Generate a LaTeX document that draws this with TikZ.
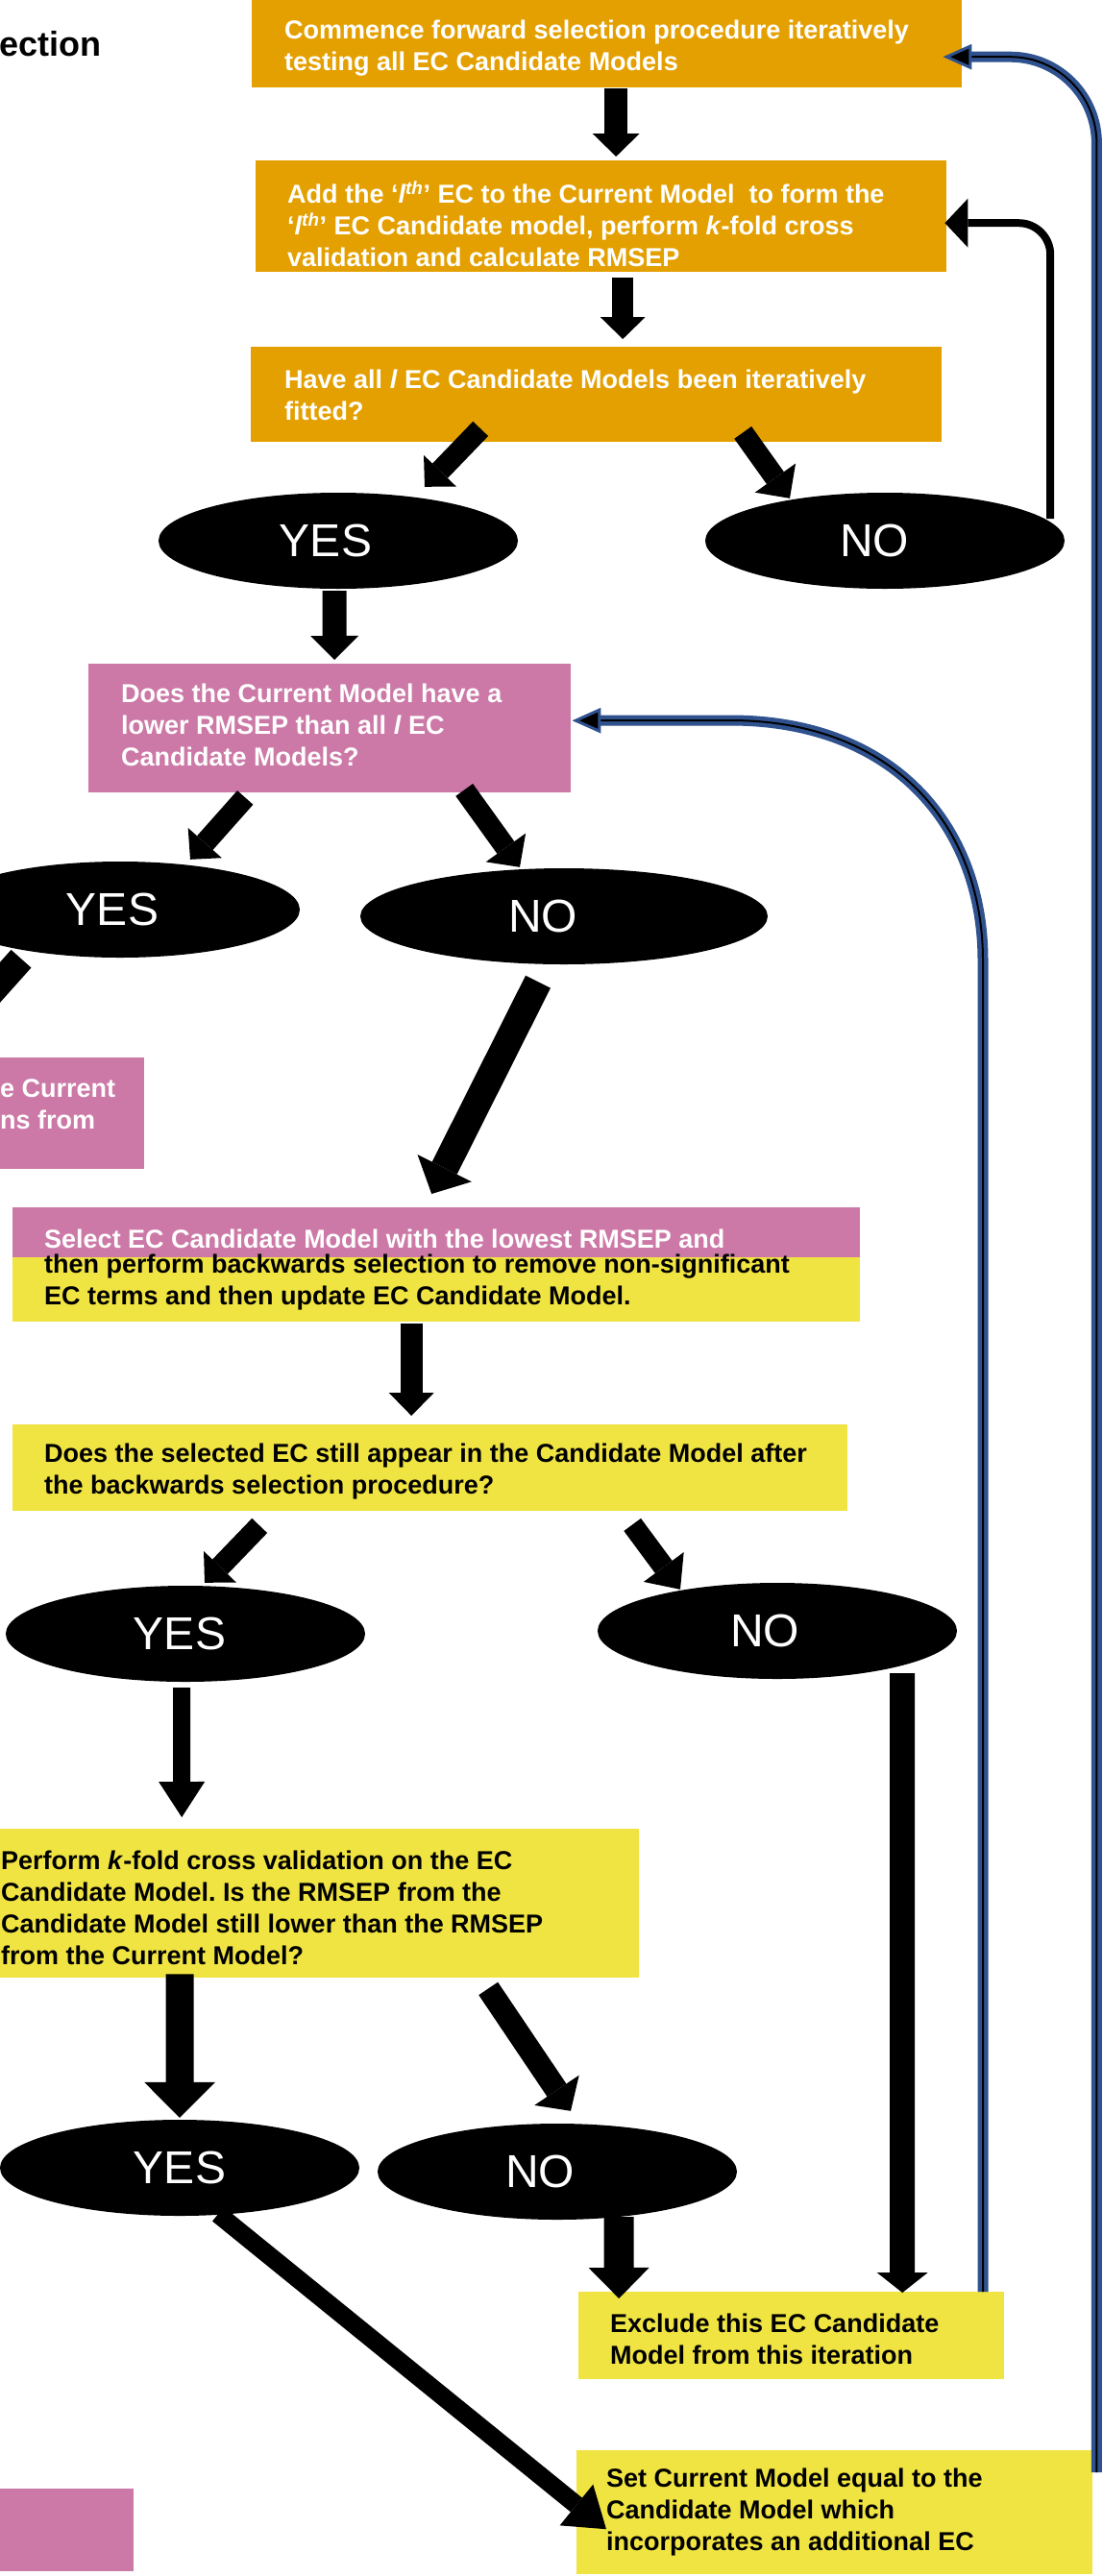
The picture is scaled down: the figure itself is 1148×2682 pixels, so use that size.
\documentclass[tikz,border=0pt]{standalone}
\usepackage{fontspec}
\setmainfont{Liberation Sans}
\usetikzlibrary{arrows.meta,shapes.geometric,calc}
\definecolor{orangeC}{RGB}{228,160,0}
\definecolor{pinkC}{RGB}{204,121,167}
\definecolor{yellowC}{RGB}{240,228,66}
\definecolor{blueC}{RGB}{47,82,143}
\frenchspacing
\begin{document}
\begin{tikzpicture}[x=1pt,y=-1pt,
  boxs/.style={rectangle, inner sep=0pt, anchor=north west, draw=none},
  obox/.style={boxs, fill=orangeC},
  pbox/.style={boxs, fill=pinkC},
  ybox/.style={boxs, fill=yellowC},
  wtxt/.style={anchor=west, align=left, inner sep=0pt, text=white, font={\bfseries\fontsize{27pt}{33pt}\selectfont}},
  btxt/.style={wtxt, text=black},
  oval/.style={ellipse, fill=black, text=white, inner sep=0pt, minimum width=374pt, minimum height=100pt, font={\fontsize{48pt}{48pt}\selectfont}},
  blockarr/.style n args={3}{draw=black, line width=#1pt, -{Triangle[length=#2pt 0 0, width=#3pt 0 0, line width=0pt]}},
  blueline/.style={draw=blueC, line width=11pt, -{Triangle[length=30pt 0 0, width=26pt 0 0, line width=3pt 0 0, fill=black]}},
  bluecore/.style={draw=black, line width=2pt, shorten >=30pt},
  loopline/.style={draw=black, line width=8pt, -{Triangle[length=24pt 0 0, width=51pt 0 0, line width=0pt]}}
]
\useasboundingbox (0,0) rectangle (1148,2682);
\fill[white] (0,0) rectangle (1148,2682);

% title fragment
\node[anchor=base east, inner sep=0pt, font={\bfseries\fontsize{36pt}{40pt}\selectfont}] (ttl) at (106,58) {ection};

% boxes
\node[obox, minimum width=739pt, minimum height=91pt] (b1) at (262,0) {};
\node[obox, minimum width=719pt, minimum height=116pt] (b2) at (266,167) {};
\node[obox, minimum width=719pt, minimum height=99pt] (b3) at (261,361) {};
\node[pbox, minimum width=502pt, minimum height=134pt] (p1) at (92,691) {};
\node[pbox, minimum width=150pt, minimum height=116pt] (pl) at (0,1101) {};
\node[ybox, minimum width=882pt, minimum height=119pt] (sel) at (13,1257) {};
\node[pbox, minimum width=882pt, minimum height=52pt] (selp) at (13,1257) {};
\node[ybox, minimum width=869pt, minimum height=90pt] (d1) at (13,1483) {};
\node[ybox, minimum width=665pt, minimum height=155pt] (pf) at (0,1904) {};
\node[ybox, minimum width=443pt, minimum height=91pt] (ex) at (602,2386) {};
\node[ybox, minimum width=537pt, minimum height=129pt] (sc) at (600,2551) {};
\node[pbox, minimum width=139pt, minimum height=86pt] (pb) at (0,2591) {};

% texts
\node[wtxt] (t1) at (296,50) {Commence forward selection procedure iteratively\\testing all EC Candidate Models};
\node[wtxt] (t2) at (299,233) {Add the ‘\textit{l\textsuperscript{th}}’ EC to the Current Model~ to form the\\‘\textit{l\textsuperscript{th}}’ EC Candidate model, perform \textit{k}-fold cross\\validation and calculate RMSEP};
\node[wtxt] (t3) at (296,411) {Have all \textit{l} EC Candidate Models been iteratively\\fitted?};
\node[wtxt] (t4) at (126,755) {Does the Current Model have a\\lower RMSEP than all \textit{l} EC\\Candidate Models?};
\node[wtxt] (t10) at (0,1150) {e Current\\ns from};
\node[wtxt] (t5a) at (46,1290) {Select EC Candidate Model with the lowest RMSEP and};
\node[btxt] (t5b) at (46,1335) {then perform backwards selection to remove non-significant\\EC terms and then update EC Candidate Model.};
\node[btxt] (t6) at (46,1532) {Does the selected EC still appear in the Candidate Model after\\the backwards selection procedure?};
\node[btxt] (t7) at (1,1986) {Perform \textit{k}-fold cross validation on the EC\\Candidate Model. Is the RMSEP from the\\Candidate Model still lower than the RMSEP\\from the Current Model?};
\node[btxt] (t8) at (635,2435) {Exclude this EC Candidate\\Model from this iteration};
\node[btxt] (t9) at (631,2615) {Set Current Model equal to the\\Candidate Model which\\incorporates an additional EC};

% ovals
\node[oval] (y1) at (352,563) {YES\kern26pt};
\node[oval] (n1) at (921,563) {NO\kern22pt};
\node[oval] (y2) at (125,947) {YES\kern16pt};
\node[oval, minimum width=424pt] (n2) at (587,954) {NO\kern44pt};
\node[oval] (y3) at (193,1701) {YES\kern12pt};
\node[oval] (n3) at (809,1698) {NO\kern26pt};
\node[oval] (y4) at (187,2257) {YES};
\node[oval] (n4) at (580,2261) {NO\kern36pt};

% block arrows
\draw[blockarr={24}{24}{49}] ($(b1.south)+(9.5,1)$) -- ($(b2.north)+(15.5,-4)$);
\draw[blockarr={22}{23}{47}] ($(b2.south)+(22.5,6)$) -- ($(b3.north)+(27.5,-8)$);
\draw[blockarr={22}{23}{47}] ($(b3.south)+(-120.5,-14)$) -- ($(y1.north)+(90,-6)$);
\draw[blockarr={22}{26}{52}] ($(b3.south)+(152.5,-10)$) -- ($(n1.north)+(-99,6)$);
\draw[blockarr={25}{25}{50}] ($(y1.south)+(-4,2)$) -- ($(p1.north)+(5,-4)$);
\draw[blockarr={22}{23}{47}] ($(p1.south)+(-88,5)$) -- ($(y2.north)+(73,-2)$);
\draw[blockarr={22}{25}{51}] ($(p1.south)+(140,-3)$) -- ($(n2.north)+(-46,-1)$);
\draw[blockarr={28}{25}{50}] ($(y2.south)+(-103,1)$) -- ($(pl.north west)+(-60,-11)$);
\draw[blockarr={29}{30}{63}] ($(n2.south)+(-27,18)$) -- ($(sel.north)+(-5,-14)$);
\draw[blockarr={23}{24}{47}] ($(sel.south)+(-26,2)$) -- ($(d1.north)+(-19.5,-9)$);
\draw[blockarr={22}{23}{47}] ($(d1.south)+(-177.5,15)$) -- ($(y3.north)+(20,-3)$);
\draw[blockarr={22}{29}{52}] ($(d1.south)+(210.5,14)$) -- ($(n3.north)+(-101,7)$);
\draw[blockarr={26}{21}{53}] ($(n3.south)+(130,-6)$) -- ($(ex.north)+(115.5,1)$);
\draw[blockarr={18}{37}{48}] ($(y3.south)+(-4,6)$) -- ($(pf.north)+(-143.5,-12)$);
\draw[blockarr={29}{37}{74}] ($(pf.south)+(-145.5,-4)$) -- ($(y4.north)+(0,-2)$);
\draw[blockarr={24}{26}{56}] ($(pf.south)+(175.5,11)$) -- ($(n4.north)+(14,-13)$);
\draw[blockarr={31}{32}{63}] ($(n4.south)+(64,-3)$) -- ($(ex.north)+(-179.5,7)$);
\draw[blockarr={19}{40}{55}] ($(y4.south)+(40,-2)$) -- ($(sc.west)+(31,17.5)$);

% black loop NO -> box 2
\draw[loopline, rounded corners=33pt] ($(n1.east)+(-15,-23)$) |- ($(b2.east)+(-2,7)$);

% blue loop: set current -> box 1
\draw[blueline, rounded corners=90pt] ($(sc.north east)+(4,23)$) |- ($(b1.east)+(-20,13.5)$);
\draw[bluecore, rounded corners=90pt] ($(sc.north east)+(4,23)$) |- ($(b1.east)+(-20,13.5)$);

% blue loop: exclude -> pink question
\draw[blueline] ($(ex.north)+(199.5,0)$) -- (1023,1000) .. controls (1023,860) and (930,750) .. (760,750) -- ($(p1.east)+(1,-8)$);
\draw[bluecore] ($(ex.north)+(199.5,0)$) -- (1023,1000) .. controls (1023,860) and (930,750) .. (760,750) -- ($(p1.east)+(1,-8)$);
\end{tikzpicture}
\end{document}
